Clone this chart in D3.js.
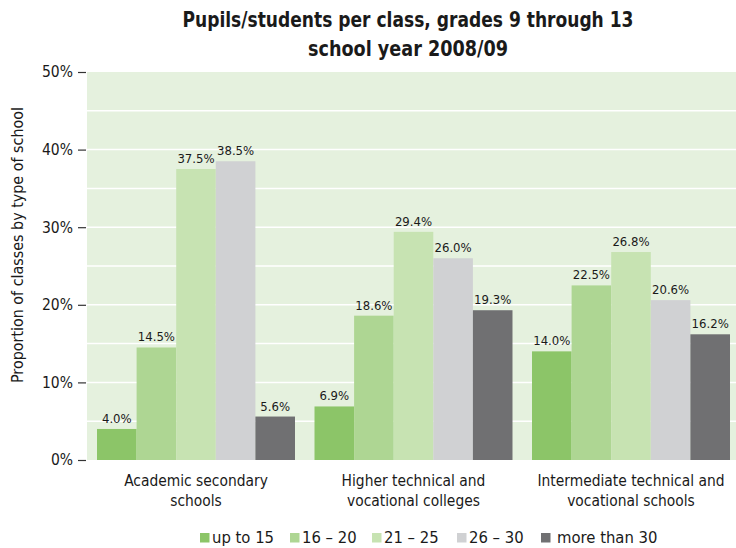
<!DOCTYPE html>
<html><head><meta charset="utf-8">
<script src="https://cdn.jsdelivr.net/npm/d3@7"></script>
<style>
body{margin:0;background:#fff;}
svg text{font-family:"DejaVu Sans Condensed","Liberation Sans Narrow",Arial,sans-serif;fill:#1a1a1a;}
</style></head>
<body><svg id="c" width="736" height="548"></svg>
<script>
const categories = [["Academic secondary","schools"],["Higher technical and","vocational colleges"],["Intermediate technical and","vocational schools"]];
const seriesNames = ["up to 15","16 \u2013 20","21 \u2013 25","26 \u2013 30","more than 30"];
const upTo15 = [4.0, 6.9, 14.0];
const s16to20 = [14.5, 18.6, 22.5];
const s21to25 = [37.5, 29.4, 26.8];
const s26to30 = [38.5, 26.0, 20.6];
const moreThan30 = [5.6, 19.3, 16.2];
const yTicks = [0,10,20,30,40,50];
const colors = ["#8cc568","#aed693","#c7e3b2","#d0d1d3","#707072"];
const series = [upTo15, s16to20, s21to25, s26to30, moreThan30];

const svg = d3.select("#c");
const plotTop = 72, plotBottom = 460, plotLeft = 87;
const catKeys = categories.map((c,i)=>i);
const x0 = d3.scaleBand().domain(catKeys).range([plotLeft, 740]).paddingInner(0.0897).paddingOuter(0.046);
const x1 = d3.scaleBand().domain(d3.range(seriesNames.length)).range([0, x0.bandwidth()]);
const y = d3.scaleLinear().domain([0,50]).range([plotBottom, plotTop]);

svg.append("rect").attr("x", plotLeft).attr("y", plotTop).attr("width", 736-plotLeft).attr("height", plotBottom-plotTop).attr("fill","#e5f1de");
svg.append("g").selectAll("line").data(d3.range(5,50,5)).join("line")
  .attr("x1", plotLeft).attr("x2", 736).attr("y1", d=>y(d)).attr("y2", d=>y(d))
  .attr("stroke","#fff").attr("stroke-width",1.5);

const yAxis = d3.axisLeft(y).tickValues(yTicks).tickFormat(d=>d+"%").tickSize(8).tickPadding(5);
const ga = svg.append("g").attr("transform", `translate(${plotLeft-1},0)`).call(yAxis);
ga.select(".domain").remove();
ga.selectAll(".tick line").attr("stroke","#333").attr("stroke-width",1.2);
ga.selectAll(".tick text").attr("font-size",15.5).attr("fill","#1a1a1a").attr("font-family",null);

const g = svg.append("g");
series.forEach((vals, si) => {
  g.selectAll(null).data(vals).join("rect")
    .attr("x", (d,i)=>x0(i)+x1(si)).attr("width", x1.bandwidth())
    .attr("y", d=>y(d)).attr("height", d=>plotBottom-y(d)).attr("fill", colors[si]);
  g.selectAll(null).data(vals).join("text")
    .attr("x", (d,i)=>x0(i)+x1(si)+x1.bandwidth()/2).attr("y", d=>y(d)-6)
    .attr("text-anchor","middle").attr("font-size",13).text(d=>d.toFixed(1)+"%");
});

categories.forEach((lines,i)=>{
  lines.forEach((t,j)=>{
    svg.append("text").attr("x", x0(i)+x0.bandwidth()/2).attr("y", 486+j*20)
      .attr("text-anchor","middle").attr("font-size",15.4).text(t);
  });
});

svg.append("text").attr("transform","translate(23,245) rotate(-90)")
  .attr("text-anchor","middle").attr("font-size",15).attr("textLength",276).attr("lengthAdjust","spacingAndGlyphs")
  .text("Proportion of classes by type of school");

svg.append("text").attr("x",408).attr("y",27).attr("text-anchor","middle").attr("font-size",21).attr("font-weight","bold")
  .attr("textLength",451).attr("lengthAdjust","spacingAndGlyphs")
  .text("Pupils/students per class, grades 9 through 13");
svg.append("text").attr("x",408).attr("y",56).attr("text-anchor","middle").attr("font-size",21).attr("font-weight","bold")
  .attr("textLength",200).attr("lengthAdjust","spacingAndGlyphs")
  .text("school year 2008/09");

const legX = [200, 290, 372, 457, 541];
seriesNames.forEach((n,i)=>{
  svg.append("rect").attr("x",legX[i]).attr("y",533).attr("width",9.5).attr("height",9.5).attr("fill",colors[i]);
  svg.append("text").attr("x",legX[i]+(i===4?16:12)).attr("y",542.5).attr("font-size",16.5).text(n);
});
</script></body></html>
